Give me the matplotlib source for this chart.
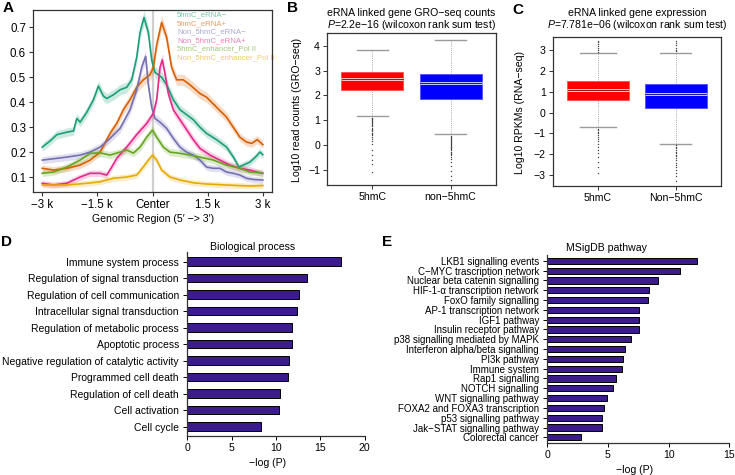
import matplotlib

matplotlib.use("Agg")
import matplotlib.pyplot as plt
import numpy as np

plt.rcParams["font.family"] = ["Liberation Sans", "DejaVu Sans"]
plt.rcParams["mathtext.fontset"] = "custom"
plt.rcParams["mathtext.it"] = "Liberation Sans:italic"
plt.rcParams["mathtext.rm"] = "Liberation Sans"

W, H = 735, 475

# ---- panel A: profiles around enhancer center ----
a_labels = ["5hmC_eRNA−", "5hmC_eRNA+", "Non_5hmC_eRNA−", "Non_5hmC_eRNA+",
            "5hmC_enhancer_Pol II", "Non_5hmC_enhancer_Pol II"]
a_colors = ["#1b9e77", "#d95f02", "#7570b3", "#e7298a", "#66a61e", "#e6ab02"]

teal_x = [-3000, -2783, -2602, -2330, -2149, -2059, -1968, -1787, -1606, -1471, -1335, -1244,
          -1063, -882, -701, -566, -430, -339, -231, -113, -23, 68, 249, 385, 566, 747, 928,
          1109, 1290, 1471, 1742, 2014, 2200, 2350, 2500, 2650, 2800, 2920, 3000]
teal_y = [0.22, 0.245, 0.27, 0.28, 0.285, 0.335, 0.32, 0.36, 0.41, 0.465, 0.425, 0.415,
          0.43, 0.45, 0.46, 0.49, 0.58, 0.68, 0.74, 0.68, 0.57, 0.52, 0.50, 0.47, 0.41, 0.37, 0.35,
          0.33, 0.30, 0.275, 0.25, 0.22, 0.18, 0.14, 0.15, 0.16, 0.18, 0.20, 0.19]

orange_x = [-3000, -2693, -2330, -1968, -1697, -1425, -1154, -973, -792, -611, -430, -249, -68,
            23, 113, 249, 385, 520, 656, 837, 1018, 1290, 1471, 1742, 2014, 2195, 2376, 2557,
            2700, 2850, 3000]
orange_y = [0.135, 0.128, 0.135, 0.148, 0.168, 0.20, 0.275, 0.315, 0.37, 0.41, 0.46, 0.49, 0.51,
            0.54, 0.63, 0.72, 0.66, 0.54, 0.49, 0.49, 0.47, 0.435, 0.42, 0.38, 0.34, 0.30, 0.26, 0.24,
            0.235, 0.25, 0.23]

purple_x = [-3000, -2602, -2330, -1968, -1697, -1425, -1154, -882, -611, -430, -294, -186, -113,
            -23, 68, 204, 385, 566, 747, 928, 1109, 1290, 1471, 1652, 1833, 2014, 2195, 2376,
            2557, 2750, 3000]
purple_y = [0.168, 0.175, 0.18, 0.188, 0.20, 0.22, 0.255, 0.295, 0.37, 0.45, 0.54, 0.584, 0.47,
            0.38, 0.335, 0.32, 0.295, 0.255, 0.22, 0.20, 0.188, 0.168, 0.14, 0.135, 0.135, 0.12,
            0.115, 0.108, 0.095, 0.09, 0.088]

magenta_x = [-3000, -2693, -2330, -1968, -1697, -1425, -1244, -1109, -973, -701, -430, -158, 23,
             113, 204, 267, 339, 430, 566, 747, 928, 1109, 1290, 1561, 1833, 2104, 2376, 2647,
             2850, 3000]
magenta_y = [0.075, 0.068, 0.075, 0.10, 0.115, 0.115, 0.108, 0.14, 0.175, 0.22, 0.27, 0.315, 0.355,
             0.41, 0.54, 0.57, 0.515, 0.435, 0.37, 0.33, 0.29, 0.25, 0.215, 0.188, 0.168, 0.148,
             0.135, 0.128, 0.12, 0.115]

green_x = [-3000, -2693, -2330, -1968, -1697, -1425, -1154, -882, -701, -520, -339, -158, 0, 113,
           294, 475, 747, 1018, 1290, 1652, 2014, 2376, 2647, 2850, 3000]
green_y = [0.115, 0.12, 0.14, 0.168, 0.195, 0.197, 0.188, 0.20, 0.208, 0.196, 0.22, 0.26, 0.288,
           0.26, 0.22, 0.20, 0.195, 0.188, 0.18, 0.168, 0.148, 0.135, 0.12, 0.118, 0.115]

yellow_x = [-3000, -2330, -1787, -1425, -1063, -701, -430, -249, -113, 0, 113, 249, 475, 747,
            1109, 1471, 2014, 2647, 3000]
yellow_y = [0.068, 0.068, 0.075, 0.081, 0.095, 0.10, 0.108, 0.141, 0.168, 0.188, 0.168, 0.128,
            0.10, 0.088, 0.077, 0.072, 0.068, 0.064, 0.066]

a_xs = [teal_x, orange_x, purple_x, magenta_x, green_x, yellow_x]
a_ys = [teal_y, orange_y, purple_y, magenta_y, green_y, yellow_y]
a_xticks = [-3000, -1500, 0, 1500, 3000]
a_xticklabels = ["−3 k", "−1.5 k", "Center", "1.5 k", "3 k"]

# ---- panel B / C: boxplots ----
b_cats = ["5hmC", "non−5hmC"]
b_med = [2.64, 2.50]
b_q1 = [2.20, 1.85]
b_q3 = [2.93, 2.84]
b_whislo = [1.17, 0.43]
b_whishi = [3.81, 4.21]
b_fliers = [
    [1.10, 1.07, 1.03, 1.00, 0.96, 0.92, 0.88, 0.84, 0.80, 0.75, 0.70, 0.66, 0.60, 0.55, 0.50,
     0.45, 0.40, 0.33, 0.25, 0.15, 0.05, -0.20, -0.40, -0.60, -0.75, -1.10],
    [0.38, 0.34, 0.30, 0.26, 0.22, 0.18, 0.14, 0.10, 0.06, 0.02, -0.02, -0.06, -0.10, -0.14,
     -0.18, -0.22, -0.27, -0.32, -0.37, -0.42, -0.48, -0.55, -0.70, -0.85, -1.05, -1.25, -1.40],
]

c_cats = ["5hmC", "Non−5hmC"]
c_med = [1.08, 0.89]
c_q1 = [0.60, 0.20]
c_q3 = [1.51, 1.37]
c_whislo = [-0.71, -1.51]
c_whishi = [2.84, 2.84]
c_fliers = [
    [2.92, 3.00, 3.08, 3.17, 3.27, 3.38, 3.45, -0.78, -0.85, -0.92, -1.00, -1.08, -1.15, -1.25,
     -1.35, -1.50, -1.65, -1.80, -1.95, -2.15, -2.35, -2.60, -2.90],
    [2.93, 3.02, 3.12, 3.22, 3.33, 3.45, -1.58, -1.65, -1.72, -1.80, -1.88, -1.95, -2.02, -2.10,
     -2.20, -2.30, -2.40, -2.50, -2.62, -2.75, -2.90, -3.05, -3.30],
]

# ---- panel D / E: enrichment bars ----
d_terms = ["Immune system process", "Regulation of signal transduction",
           "Regulation of cell communication", "Intracellular signal transduction",
           "Regulation of metabolic process", "Apoptotic process",
           "Negative regulation of catalytic activity", "Programmed cell death",
           "Regulation of cell death", "Cell activation", "Cell cycle"]
d_vals = [17.3, 13.5, 12.6, 12.4, 11.8, 11.8, 11.5, 11.4, 10.45, 10.35, 8.3]

e_terms = ["LKB1 signalling events", "C−MYC trascription network",
           "Nuclear beta catenin signalling", "HIF-1-α transcription network",
           "FoxO family signalling", "AP-1 transcription network", "IGF1 pathway",
           "Insulin receptor pathway", "p38 signalling mediated by MAPK",
           "Interferon alpha/beta signalling", "PI3k pathway", "Immune system",
           "Rap1 signalling", "NOTCH signalling", "WNT signalling pathway",
           "FOXA2 and FOXA3 transcription", "p53 signalling pathway",
           "Jak−STAT signalling pathway", "Colorectal cancer"]
e_vals = [12.3, 10.95, 9.13, 8.42, 8.28, 7.54, 7.54, 7.54, 6.92, 6.37, 6.23, 6.18, 5.63, 5.41,
          4.95, 4.68, 4.51, 4.51, 2.76]


def box_px(x0, y0, x1, y1):
    return [x0 / W, 1 - y1 / H, (x1 - x0) / W, (y1 - y0) / H]


def ftext(x, y, s, **kw):
    fig.text(x / W, 1 - y / H, s, **kw)


fig = plt.figure(figsize=(7.35, 4.75), dpi=100)

# ---------------- A ----------------
ax = fig.add_axes(box_px(33, 10, 272, 192))
ax.axvline(0, color="#cfcfcf", lw=1.6, zorder=0)
for xs, ys, col in zip(a_xs, a_ys, a_colors):
    xs = np.asarray(xs, float)
    ys = np.asarray(ys, float)
    band = 0.01 + 0.025 * ys
    ax.fill_between(xs, ys - band, ys + band, color=col, alpha=0.22, lw=0)
    ax.plot(xs, ys, color=col, lw=1.2)
for i, (lab, col) in enumerate(zip(a_labels, a_colors)):
    ftext(177, 15 + i * 8.5, lab, color=col, alpha=0.6, fontsize=5.6, va="center", ha="left")
ax.set_xlim(-3250, 3250)
ax.set_ylim(0.04, 0.77)
ax.set_xticks(a_xticks)
ax.set_xticklabels(a_xticklabels)
ax.set_yticks([0.1, 0.2, 0.3, 0.4, 0.5, 0.6, 0.7])
ax.tick_params(labelsize=8.3, length=3, width=0.8, color="#333333", pad=2)
for s in ax.spines.values():
    s.set_color("#333333")
    s.set_linewidth(0.9)
ftext(153, 219, "Genomic Region (5′ −> 3′)", fontsize=7.6, ha="center", va="center")


def draw_box(ax, cats, med, q1, q3, lo, hi, fliers, cap_w):
    stats = []
    for i in range(len(cats)):
        stats.append(dict(med=med[i], q1=q1[i], q3=q3[i], whislo=lo[i], whishi=hi[i],
                          fliers=fliers[i], label=cats[i]))
    pos = np.arange(1, len(cats) + 1)
    # whisker line running behind the boxes
    for p, l, h in zip(pos, lo, hi):
        ax.plot([p, p], [l, h], color="#aaaaaa", lw=0.7, ls=(0, (1, 1.2)), zorder=1)
    res = ax.bxp(stats, positions=pos, widths=0.79, capwidths=cap_w, patch_artist=True,
                 showfliers=True,
                 boxprops=dict(lw=0.6),
                 whiskerprops=dict(color="none"),
                 capprops=dict(color="#9a9a9a", lw=1.0),
                 medianprops=dict(color="white", lw=2.0, alpha=0.85),
                 flierprops=dict(marker="o", ms=1.0, mfc="#444444", mec="none"))
    for patch, fc, ec in zip(res["boxes"], ["#ff0000", "#0000ff"], ["#ff5050", "#5050ff"]):
        patch.set_facecolor(fc)
        patch.set_edgecolor(ec)
        patch.set_zorder(2)
    for m in res["medians"]:
        m.set_zorder(3)
    for p, m, c in zip(pos, med, ["#700000", "#000070"]):
        ax.plot([p - 0.39, p + 0.39], [m, m], color=c, lw=0.6, zorder=4)
    ax.set_xlim(0.42, 2.58)
    ax.set_xticks(pos)
    ax.set_xticklabels(cats)
    ax.tick_params(labelsize=7.6, length=3, width=0.7, color="#333333", pad=2)
    for s in ax.spines.values():
        s.set_color("#333333")
        s.set_linewidth(0.9)


# ---------------- B ----------------
ax = fig.add_axes(box_px(327, 33, 496, 185))
draw_box(ax, b_cats, b_med, b_q1, b_q3, b_whislo, b_whishi, b_fliers, [0.4, 0.4])
ax.set_ylim(-1.61, 4.51)
ax.set_yticks([-1, 0, 1, 2, 3, 4])
ftext(297, 110, "Log10 read counts (GRO−seq)", fontsize=7.6, rotation=90, ha="center", va="center")
ftext(411, 13, "eRNA linked gene GRO−seq counts", fontsize=7.6, ha="center", va="center")
ftext(411, 24.5, r"$\it{P}$=2.2e−16 (wilcoxon rank sum test)", fontsize=7.6, ha="center", va="center")

# ---------------- C ----------------
ax = fig.add_axes(box_px(552.7, 36.7, 721, 185.7))
draw_box(ax, c_cats, c_med, c_q1, c_q3, c_whislo, c_whishi, c_fliers, [0.46, 0.4])
ax.set_ylim(-3.51, 3.64)
ax.set_yticks([-3, -2, -1, 0, 1, 2, 3])
ftext(520, 112, "Log10 RPKMs (RNA−seq)", fontsize=7.6, rotation=90, ha="center", va="center")
ftext(637, 12.7, "eRNA linked gene expression", fontsize=7.6, ha="center", va="center")
ftext(637, 25, r"$\it{P}$=7.781e−06 (wilcoxon rank sum test)", fontsize=7.6, ha="center", va="center")


def draw_bars(ax, terms, vals, height, xmax, xticks, label_size):
    n = len(terms)
    ypos = np.arange(n)[::-1]
    ax.barh(ypos, vals, height=height, color="#3c1c8c", edgecolor="black", lw=0.7)
    ax.set_yticks(ypos)
    ax.set_yticklabels(terms)
    ax.set_xlim(0, xmax)
    ax.set_xticks(xticks)
    ax.set_ylim(-0.55, n - 1 + 0.6)
    ax.spines["top"].set_visible(False)
    ax.spines["right"].set_visible(False)
    for s in ("left", "bottom"):
        ax.spines[s].set_color("#333333")
        ax.spines[s].set_linewidth(0.9)
    ax.tick_params(axis="y", labelsize=label_size, length=3, width=0.7, pad=3)
    ax.tick_params(axis="x", labelsize=7.6, length=3, width=0.7, pad=2)


# ---------------- D ----------------
ax = fig.add_axes(box_px(187.3, 251.7, 364.7, 435.7))
draw_bars(ax, d_terms, d_vals, 0.52, 20, [0, 5, 10, 15, 20], 7.5)
ftext(253, 246.7, "Biological process", fontsize=7.6, ha="center", va="center")
ftext(268, 462.7, "−log (P)", fontsize=7.6, ha="center", va="center")

# ---------------- E ----------------
ax = fig.add_axes(box_px(547.3, 255, 729.3, 442.7))
draw_bars(ax, e_terms, e_vals, 0.62, 15, [0, 5, 10, 15], 7.0)
ftext(606.7, 247.7, "MSigDB pathway", fontsize=7.6, ha="center", va="center")
ftext(635, 470, "−log (P)", fontsize=7.6, ha="center", va="center")

# panel letters
for x, y, s in [(3, 8, "A"), (287, 8, "B"), (512, 10, "C"), (1, 242, "D"), (382, 242, "E")]:
    ftext(x, y, s, fontsize=11, fontweight="bold", ha="left", va="center")

fig.savefig("out.png", dpi=100)
